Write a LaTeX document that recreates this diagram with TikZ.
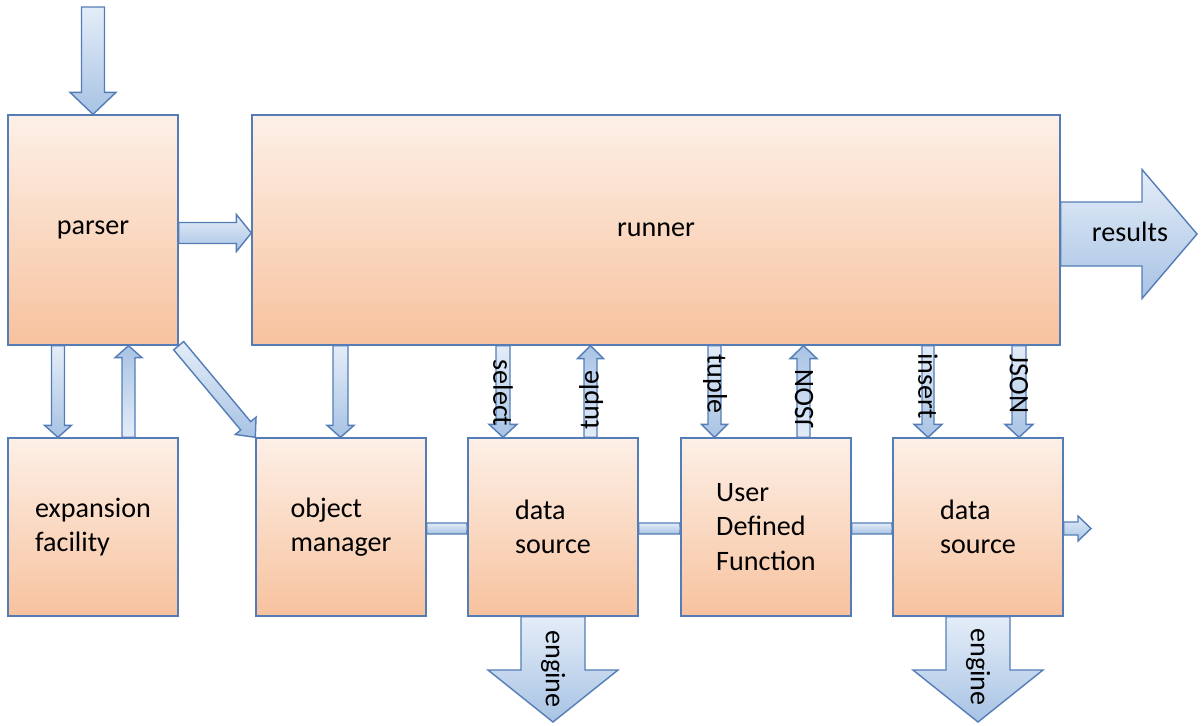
\documentclass[tikz,border=0pt]{standalone}
\usepackage{fontspec}
\setmainfont{Carlito}
\usepackage{tikz}
\usetikzlibrary{calc}

\definecolor{boxline}{RGB}{84,125,183}
\definecolor{boxtop}{RGB}{253,240,231}
\definecolor{boxbot}{RGB}{247,194,158}
\definecolor{arrtop}{RGB}{228,237,248}
\definecolor{arrbot}{RGB}{168,195,228}

% block arrow: [style]{from}{to}{shaft half width}{head half width}{head length}
\newcommand{\blockarrow}[6][]{%
  \coordinate (ba) at (#2);
  \coordinate (bb) at (#3);
  \coordinate (bh) at ($(bb)!#6!(ba)$);
  \draw[barr,#1] ($(ba)!#4!90:(bb)$) -- ($(bh)!#4!90:(bb)$) -- ($(bh)!#5!90:(bb)$)
    -- (bb) -- ($(bh)!#5!-90:(bb)$) -- ($(bh)!#4!-90:(bb)$) -- ($(ba)!#4!-90:(bb)$) -- cycle;
}

\begin{document}
\begin{tikzpicture}[x=0.02cm, y=-0.02cm,
    every node/.style={font=\fontsize{16pt}{19.5pt}\selectfont},
    stage/.style={rectangle, draw=boxline, line width=0.8pt, top color=boxtop, bottom color=boxbot, minimum width=3.4cm, minimum height=3.56cm, align=left},
    barr/.style={draw=boxline, line width=0.8pt, top color=arrtop, bottom color=arrbot},
    barrup/.style={top color=arrbot, bottom color=arrtop},
    lbl/.style={inner sep=0pt}
]
\useasboundingbox (0,0) rectangle (1202,725);

\node[stage, minimum height=4.6cm] (parser) at (93,230) {parser};
\node[stage, minimum width=16.16cm, minimum height=4.6cm] (runner) at (656,230) {runner};
\node[stage] (expand) at (93,527) {expansion\\facility};
\node[stage] (objmgr) at (341,527) {object\\manager};
\node[stage] (dsA) at (553,527) {data\\source};
\node[stage] (udf) at (766,527) {User\\Defined\\Function};
\node[stage] (dsB) at (978,527) {data\\source};

\coordinate (query) at (93,7);
\coordinate (resout) at (1197,234);
\coordinate (chainout) at (1091,528.5);
\coordinate (engA) at (553,722);
\coordinate (engB) at (978,722);

% parser side
\blockarrow{query}{parser.north}{0.23cm}{0.46cm}{0.44cm}
\blockarrow{parser.east |- 0,233}{runner.west |- 0,233}{0.21cm}{0.37cm}{0.3cm}
\blockarrow{parser.south -| 58,0}{expand.north -| 58,0}{0.13cm}{0.27cm}{0.24cm}
\blockarrow[barrup]{expand.north -| 128.5,0}{parser.south -| 128.5,0}{0.13cm}{0.27cm}{0.24cm}
\blockarrow{parser.south east}{objmgr.north west}{0.13cm}{0.27cm}{0.3cm}

% runner to the lower row
\blockarrow{runner.east |- 0,234}{resout}{0.64cm}{1.29cm}{1.1cm}
\blockarrow{runner.south -| 340.5,0}{objmgr.north -| 340.5,0}{0.15cm}{0.27cm}{0.24cm}
\blockarrow{runner.south -| 503,0}{dsA.north -| 503,0}{0.14cm}{0.28cm}{0.26cm}
\blockarrow[barrup]{dsA.north -| 590.5,0}{runner.south -| 590.5,0}{0.13cm}{0.26cm}{0.26cm}
\blockarrow{runner.south -| 714.5,0}{udf.north -| 714.5,0}{0.13cm}{0.26cm}{0.26cm}
\blockarrow[barrup]{udf.north -| 803.5,0}{runner.south -| 803.5,0}{0.13cm}{0.27cm}{0.26cm}
\blockarrow{runner.south -| 928,0}{dsB.north -| 928,0}{0.12cm}{0.28cm}{0.26cm}
\blockarrow{runner.south -| 1019,0}{dsB.north -| 1019,0}{0.14cm}{0.28cm}{0.26cm}

% lower row chain
\blockarrow{objmgr.east |- 0,528.5}{dsA.west |- 0,528.5}{0.11cm}{0.11cm}{0.01cm}
\blockarrow{dsA.east |- 0,528.5}{udf.west |- 0,528.5}{0.11cm}{0.11cm}{0.01cm}
\blockarrow{udf.east |- 0,528.5}{dsB.west |- 0,528.5}{0.11cm}{0.11cm}{0.01cm}
\blockarrow{dsB.east |- 0,528.5}{chainout}{0.13cm}{0.25cm}{0.26cm}
\blockarrow{dsA.south}{engA}{0.64cm}{1.3cm}{1.04cm}
\blockarrow{dsB.south}{engB}{0.64cm}{1.3cm}{1.04cm}

% labels
\node[lbl, rotate=-90] (lselect) at (503,393) {select};
\node[lbl, rotate=90] (ltupleup) at (591,400) {tuple};
\node[lbl, rotate=-90] (ltupledn) at (715,384) {tuple};
\node[lbl, rotate=90] (ljsonup) at (804,399) {JSON};
\node[lbl, rotate=-90] (linsert) at (928,386) {insert};
\node[lbl, rotate=-90] (ljsondn) at (1019,384) {JSON};
\node[lbl] (lresults) at (1130,232) {results};
\node[lbl, rotate=-90] (lengA) at (553,669) {engine};
\node[lbl, rotate=-90] (lengB) at (978,667) {engine};
\end{tikzpicture}
\end{document}
